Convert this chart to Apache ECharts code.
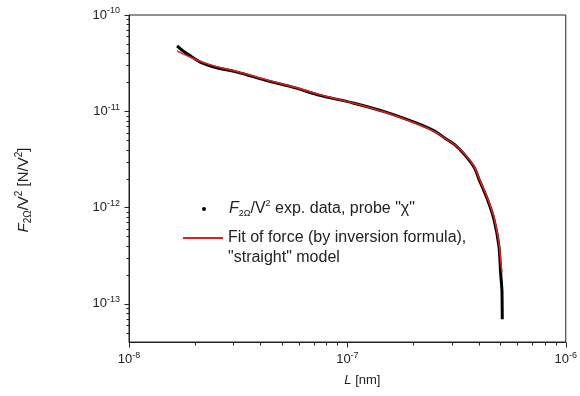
<!DOCTYPE html>
<html>
<head>
<meta charset="utf-8">
<script src="https://cdn.jsdelivr.net/npm/echarts@6/dist/echarts.min.js"></script>
<style>html,body{margin:0;padding:0;background:#fff}#c{width:580px;height:396px}</style>
</head>
<body>
<div id="c"></div>
<script>
// Experimental data (probe "χ"): distance L and F_2Ω/V^2
const expL = [1.66e-8, 1.75e-8, 1.88e-8, 2.16e-8, 2.5e-8, 3.06e-8, 3.6e-8, 4.32e-8, 5.77e-8, 7.48e-8, 1.061e-7, 1.50e-7, 2.05e-7, 2.52e-7, 2.79e-7, 3.10e-7, 3.44e-7, 3.81e-7, 4.01e-7, 4.38e-7, 4.69e-7, 4.94e-7, 5.03e-7, 5.10e-7, 5.11e-7, 5.12e-7];
const expF = [4.77e-11, 4.3e-11, 3.85e-11, 3.18e-11, 2.85e-11, 2.58e-11, 2.33e-11, 2.07e-11, 1.75e-11, 1.46e-11, 1.22e-11, 9.8e-12, 7.6e-12, 6.18e-12, 5.27e-12, 4.5e-12, 3.54e-12, 2.6e-12, 1.95e-12, 1.21e-12, 7.5e-13, 3.97e-13, 2.12e-13, 1.4e-13, 1.11e-13, 6.9e-14];
// Fit of force (inversion formula), "straight" model
const fitL = [1.66e-8, 1.88e-8, 2.16e-8, 2.5e-8, 3.06e-8, 3.6e-8, 4.32e-8, 5.77e-8, 7.48e-8, 1.061e-7, 1.50e-7, 2.05e-7, 2.52e-7, 2.79e-7, 3.10e-7, 3.44e-7, 3.81e-7, 4.01e-7, 4.38e-7, 4.69e-7, 4.94e-7, 5.05e-7, 5.11e-7];
const fitF = [4.24e-11, 3.7e-11, 3.25e-11, 2.92e-11, 2.62e-11, 2.36e-11, 2.1e-11, 1.77e-11, 1.48e-11, 1.22e-11, 9.7e-12, 7.5e-12, 6.1e-12, 5.25e-12, 4.5e-12, 3.6e-12, 2.65e-12, 2.0e-12, 1.25e-12, 7.9e-13, 4.3e-13, 2.6e-13, 2.1e-13];
// Axis ticks
const xMajor = [1e-8, 1e-7, 1e-6];
const xMinor = [2e-8, 3e-8, 4e-8, 5e-8, 6e-8, 7e-8, 8e-8, 9e-8, 2e-7, 3e-7, 4e-7, 5e-7, 6e-7, 7e-7, 8e-7, 9e-7];
const yMajor = [1e-13, 1e-12, 1e-11, 1e-10];
const yMinor = [5e-14, 6e-14, 7e-14, 8e-14, 9e-14, 2e-13, 3e-13, 4e-13, 5e-13, 6e-13, 7e-13, 8e-13, 9e-13, 2e-12, 3e-12, 4e-12, 5e-12, 6e-12, 7e-12, 8e-12, 9e-12, 2e-11, 3e-11, 4e-11, 5e-11, 6e-11, 7e-11, 8e-11, 9e-11];
const seriesNames = ['exp', 'fit'];

const FONT = '"Liberation Sans", Arial, sans-serif';
function rich(base, small) {
  return {
    sup: {fontSize: small, fontFamily: FONT, color: '#222', padding: [0, 0, Math.round(base * 0.6), 0]},
    sub: {fontSize: small, fontFamily: FONT, color: '#222', padding: [Math.round(base * 0.6), 0, 0, 0]},
    i: {fontStyle: 'italic', fontSize: base, fontFamily: FONT, color: '#222'}
  };
}
function expLabel(v) {
  const e = (v > 0 && v < 1) ? Math.round(Math.log10(v)) : Math.round(v);
  return '10{sup|' + e + '}';
}
const xMin = 1e-8, xMax = 1e-6, yMin = 4e-14, yMax = 1e-10;
const axisColor = '#222';

function tickSeries(values, isX, len) {
  return {
    type: 'custom', coordinateSystem: 'cartesian2d', xAxisIndex: 0, yAxisIndex: 0,
    silent: true, clip: false, z: 5,
    data: values.map(v => isX ? [v, yMin] : [xMin, v]),
    renderItem: (params, api) => {
      const p = api.coord([api.value(0), api.value(1)]);
      const x = Math.round(p[0]) + 0.5, y = Math.round(p[1]) + 0.5;
      return {
        type: 'line',
        shape: isX ? {x1: x, y1: y, x2: x, y2: y + len} : {x1: x, y1: y, x2: x - len, y2: y},
        style: {stroke: axisColor, lineWidth: 1}
      };
    }
  };
}

const chart = echarts.init(document.getElementById('c'), null, {renderer: 'canvas'});
chart.setOption({
  animation: false,
  backgroundColor: '#fff',
  grid: {left: 129, right: 7, top: 15, bottom: 54, show: true, borderColor: axisColor, borderWidth: 1, backgroundColor: 'transparent'},
  legend: [
    {
      data: [{name: 'exp', icon: 'circle', lineStyle: {width: 0, opacity: 0}}],
      left: 202, top: 199, padding: 0, orient: 'vertical', itemWidth: 40, itemHeight: 4,
      textStyle: {fontSize: 16, fontFamily: FONT, color: '#222', lineHeight: 20, rich: rich(16, 9)},
      formatter: () => '{i|F}{sub|2Ω}/V{sup|2} exp. data, probe "χ"'
    },
    {
      data: [{name: 'fit', itemStyle: {opacity: 0}}],
      left: 182, top: 208, padding: 0, orient: 'vertical', itemWidth: 40, itemHeight: 4,
      textStyle: {fontSize: 16, fontFamily: FONT, color: '#222', lineHeight: 20},
      formatter: () => ' \nFit of force (by inversion formula),\n"straight" model'
    }
  ],
  xAxis: [
    {
      type: 'log', logBase: 10, min: xMin, max: xMax, position: 'bottom',
      name: '{i|L} [nm]', nameLocation: 'middle', nameGap: 32,
      nameTextStyle: {fontSize: 13, fontFamily: FONT, color: '#222', padding: [0, 0, 0, 30], rich: rich(13, 9)},
      axisLine: {show: true, lineStyle: {color: axisColor, width: 1}},
      axisTick: {show: false},
      axisLabel: {customValues: xMajor, formatter: expLabel, margin: 9, fontSize: 13, fontFamily: FONT, color: '#222', rich: rich(13, 9)},
      splitLine: {show: false}, minorTick: {show: false}
    }
  ],
  yAxis: [
    {
      type: 'log', logBase: 10, min: yMin, max: yMax, position: 'left',
      name: '{i|F}{sub|2Ω}/V{sup|2} [N/V{sup|2}]', nameLocation: 'middle', nameRotate: 90, nameGap: 96,
      nameTextStyle: {fontSize: 15, fontFamily: FONT, color: '#222', padding: [0, 23, 0, 0], rich: rich(15, 10)},
      axisLine: {show: true, lineStyle: {color: axisColor, width: 1}},
      axisTick: {show: false},
      axisLabel: {customValues: yMajor, formatter: expLabel, margin: 9, fontSize: 13, fontFamily: FONT, color: '#222', rich: rich(13, 9)},
      splitLine: {show: false}, minorTick: {show: false}
    }
  ],
  series: [
    {
      name: seriesNames[0], type: 'line', xAxisIndex: 0, yAxisIndex: 0,
      data: expL.map((l, k) => [l, expF[k]]),
      symbol: 'circle', showSymbol: false, smooth: 0.3,
      lineStyle: {color: '#000', width: 3}, itemStyle: {color: '#000'}, z: 2
    },
    {
      name: seriesNames[1], type: 'line', xAxisIndex: 0, yAxisIndex: 0,
      data: fitL.map((l, k) => [l, fitF[k]]),
      symbol: 'none', smooth: 0.3,
      lineStyle: {color: '#d82222', width: 1.6}, itemStyle: {color: '#d82222'}, z: 3
    },
    tickSeries(xMajor, true, 5),
    tickSeries(xMinor, true, 3),
    tickSeries(yMajor, false, 5),
    tickSeries(yMinor, false, 3)
  ]
});
</script>
</body>
</html>
